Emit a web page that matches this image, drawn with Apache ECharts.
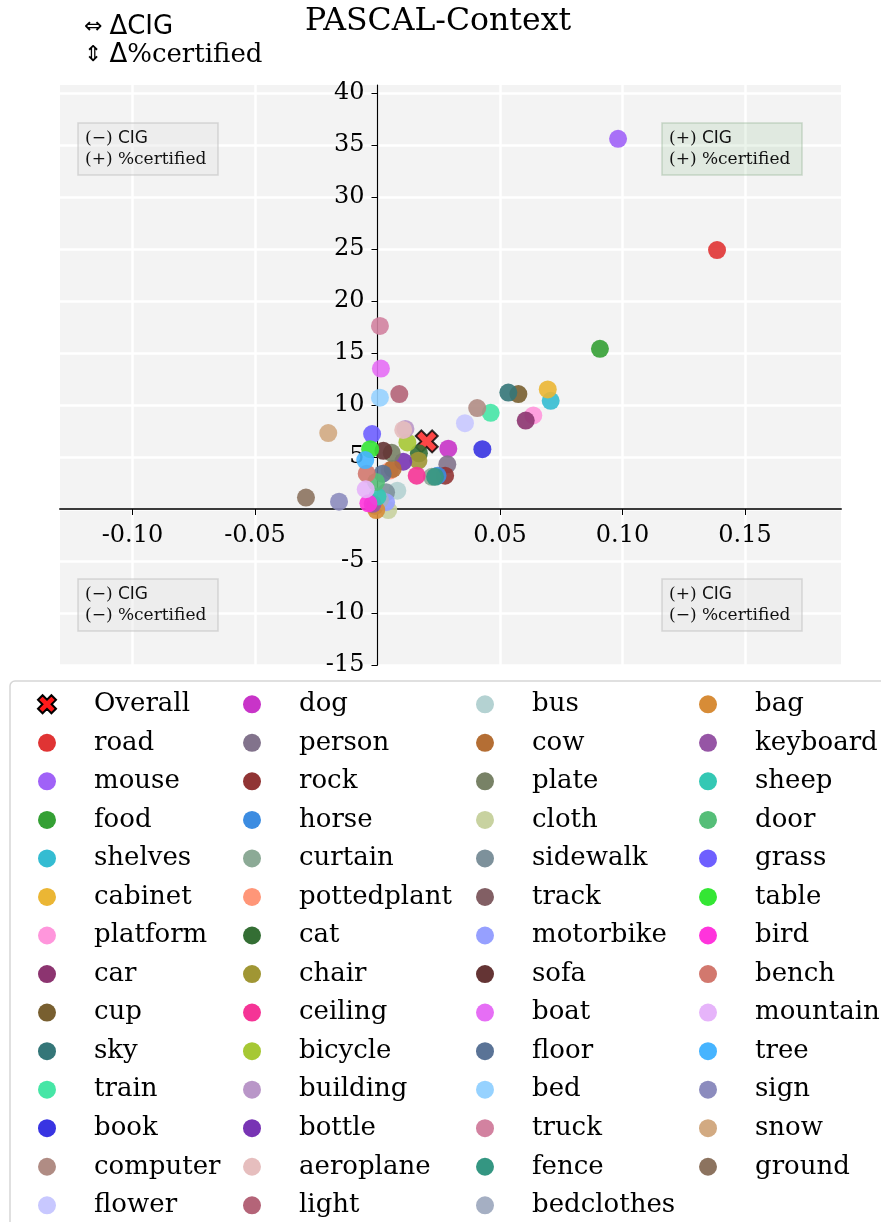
<!DOCTYPE html>
<html>
<head>
<meta charset="utf-8">
<script src="https://cdn.jsdelivr.net/npm/echarts@6/dist/echarts.min.js"></script>
<style>
  html, body { margin: 0; padding: 0; background: #ffffff; }
  #chart { width: 881px; height: 1222px; }
</style>
</head>
<body>
<div id="chart"></div>
<script>
// Per-class change in CIG (x) and change in % certified (y), PASCAL-Context
const classNames = [
  'road', 'mouse', 'food', 'shelves', 'cabinet', 'platform', 'car', 'cup', 'sky', 'train', 'book', 'computer', 'flower',
  'dog', 'person', 'rock', 'horse', 'curtain', 'pottedplant', 'cat', 'chair', 'ceiling', 'bicycle', 'building', 'bottle', 'aeroplane', 'light',
  'bus', 'cow', 'plate', 'cloth', 'sidewalk', 'track', 'motorbike', 'sofa', 'boat', 'floor', 'bed', 'truck', 'fence', 'bedclothes',
  'bag', 'keyboard', 'sheep', 'door', 'grass', 'table', 'bird', 'bench', 'mountain', 'tree', 'sign', 'snow', 'ground'
];
const cigDelta = [
  0.1386, 0.0982, 0.0908, 0.0707, 0.0695, 0.0636, 0.0605, 0.0575, 0.0534, 0.0462, 0.0428, 0.0407, 0.0357,
  0.0289, 0.0285, 0.0276, 0.0245, 0.0222, 0.0050, 0.0169, 0.0167, 0.0160, 0.0122, 0.0114, 0.0105, 0.0105, 0.0089,
  0.0081, 0.0062, 0.0058, 0.0044, 0.0035, -0.0010, 0.0035, 0.0024, 0.0014, 0.0021, 0.0010, 0.0010, 0.0235, 0.0010,
  -0.0005, -0.0020, 0.0000, -0.0006, -0.0022, -0.0030, -0.0037, -0.0044, -0.0048, -0.0050, -0.0157, -0.0201, -0.0292
];
const certDelta = [
  24.9, 35.6, 15.4, 10.4, 11.5, 9.0, 8.5, 11.05, 11.2, 9.25, 5.75, 9.7, 8.25,
  5.8, 4.3, 3.2, 3.2, 3.1, 3.7, 5.35, 4.65, 3.2, 6.4, 7.7, 4.55, 7.6, 11.05,
  1.76, 3.85, 5.4, -0.1, 1.6, 0.3, 0.65, 5.6, 13.5, 3.4, 10.7, 17.6, 3.1, 0.9,
  -0.1, 0.5, 1.2, 2.6, 7.2, 5.75, 0.55, 3.4, 1.9, 4.7, 0.7, 7.3, 1.1
];
const classColors = [
  '#e03434', '#a062f7', '#34a034', '#34bcd2', '#ebb634', '#ff96dc', '#8c3470', '#785f30', '#347678', '#46e6a6', '#3834e2', '#b08c84', '#c8c8ff',
  '#c834c8', '#82738c', '#913434', '#3c8ce1', '#8caa96', '#ff9678', '#346e34', '#a09634', '#f53496', '#a6c834', '#b996c8', '#7834b4', '#e6bebe', '#b46478',
  '#b4d2d2', '#b46e34', '#788266', '#c8d2a0', '#7d919b', '#825f64', '#96a0ff', '#643434', '#e66ef5', '#5a7396', '#96d2ff', '#d282a0', '#349682', '#a5afc3',
  '#d78c37', '#9655a5', '#34c8b4', '#55be78', '#6e5fff', '#34e634', '#ff34dc', '#d2786e', '#e6b4fa', '#46b4ff', '#8c8cbe', '#d2aa82', '#8c735f'
];
const overallPoint = [0.0201, 6.5];

const xTicks = [-0.10, -0.05, 0, 0.05, 0.10, 0.15];
const yTicks = [-15, -10, -5, 0, 5, 10, 15, 20, 25, 30, 35, 40];

const SERIF = 'DejaVu Serif';
const SANS = 'DejaVu Sans';
const crossPath = 'path://M27,97L50,74L73,97L97,73L74,50L97,27L73,3L50,26L27,3L3,27L26,50L3,73Z';

// plot box in pixels and axis ranges
const PLOT = { left: 60, right: 841, top: 85, bottom: 665 };
const X_RANGE = [-0.1296, 0.1892];
const Y_RANGE = [-15, 40.77];
// distance from the plot edges to the zero lines, so the spines cross at the origin
const xAxisOffset = -(PLOT.bottom - PLOT.top) * (0 - Y_RANGE[0]) / (Y_RANGE[1] - Y_RANGE[0]);
const yAxisOffset = -(PLOT.right - PLOT.left) * (0 - X_RANGE[0]) / (X_RANGE[1] - X_RANGE[0]);

const legendNames = ['Overall'].concat(classNames);
const legendColumns = [
  legendNames.slice(0, 14),
  legendNames.slice(14, 28),
  legendNames.slice(28, 42),
  legendNames.slice(42)
];
const legendLefts = [37, 243, 476, 699];

function quadrantBox(x, y, cigSign, certSign, tinted) {
  return {
    type: 'group',
    x: x, y: y,
    z: 10,
    children: [
      {
        type: 'rect',
        z: 10,
        shape: { x: 0, y: 0, width: 140, height: 52, r: 0 },
        style: {
          fill: tinted ? 'rgba(0,120,0,0.08)' : 'rgba(230,230,230,0.45)',
          stroke: tinted ? 'rgba(150,180,150,0.45)' : 'rgba(190,190,190,0.55)',
          lineWidth: 1.5
        }
      },
      {
        type: 'text',
        z: 11,
        x: 7, y: 26,
        style: {
          text: '{p|(' + cigSign + ') }{s|CIG}\n{p|(' + certSign + ') %certified}',
          verticalAlign: 'middle',
          align: 'left',
          rich: {
            p: { fontFamily: SERIF, fontSize: 17, lineHeight: 21, fill: '#111' },
            s: { fontFamily: SANS, fontSize: 17, lineHeight: 21, fill: '#111' }
          }
        }
      }
    ]
  };
}

const chart = echarts.init(document.getElementById('chart'), null, { renderer: 'canvas' });

const option = {
  animation: false,
  backgroundColor: '#ffffff',
  grid: {
    left: PLOT.left, right: 881 - PLOT.right, top: PLOT.top, bottom: 1222 - PLOT.bottom,
    show: true, backgroundColor: '#f3f3f3', borderWidth: 0
  },
  xAxis: {
    type: 'value',
    min: X_RANGE[0], max: X_RANGE[1],
    splitNumber: 6,
    position: 'bottom',
    offset: xAxisOffset,
    axisLine: { onZero: false, lineStyle: { color: '#3a3a3a', width: 2 } },
    axisTick: { show: true, length: 6, customValues: xTicks, lineStyle: { color: '#000', width: 1 } },
    axisLabel: {
      customValues: xTicks,
      margin: 15,
      fontFamily: SERIF, fontSize: 24, color: '#000',
      formatter: v => (Math.abs(v) < 1e-9 ? '' : v.toFixed(2))
    },
    splitLine: { show: true, lineStyle: { color: '#ffffff', width: 2.5 } }
  },
  yAxis: {
    type: 'value',
    min: Y_RANGE[0], max: Y_RANGE[1],
    splitNumber: 11,
    position: 'left',
    offset: yAxisOffset,
    axisLine: { onZero: false, lineStyle: { color: '#000', width: 1.2 } },
    axisTick: { show: true, length: 6, customValues: yTicks, lineStyle: { color: '#000', width: 1 } },
    axisLabel: {
      customValues: yTicks,
      margin: 13,
      fontFamily: SERIF, fontSize: 24, color: '#000',
      formatter: v => (Math.abs(v) < 1e-9 ? '' : String(v))
    },
    splitLine: { show: true, lineStyle: { color: '#ffffff', width: 2.5 } }
  },
  legend: legendColumns.map((names, i) => ({
    orient: 'vertical',
    left: legendLefts[i],
    top: 685,
    height: 560,
    padding: 0,
    itemGap: 0,
    itemWidth: 18,
    itemHeight: 18,
    selectedMode: false,
    data: names,
    itemStyle: { opacity: 1 },
    textStyle: {
      fontFamily: SERIF, fontSize: 26, color: '#000',
      lineHeight: 38.54, padding: [0, 0, 0, 33]
    }
  })),
  graphic: [
    {
      type: 'rect',
      shape: { x: 10, y: 681, width: 900, height: 600, r: 5 },
      style: { fill: 'none', stroke: '#d6d6d6', lineWidth: 1.5 },
      z: -1
    },
    {
      type: 'text',
      x: 438, y: 22,
      style: {
        text: 'PASCAL-Context',
        fontFamily: SERIF, fontSize: 31.5, fill: '#000',
        align: 'center', verticalAlign: 'middle'
      }
    },
    {
      type: 'text',
      x: 84, y: 27,
      style: {
        text: '{a|⇔ }{d|ΔCIG}',
        align: 'left', verticalAlign: 'middle',
        rich: {
          a: { fontFamily: SANS, fontSize: 22, fill: '#000' },
          d: { fontFamily: SANS, fontSize: 26, fill: '#000' }
        }
      }
    },
    {
      type: 'text',
      x: 84, y: 55,
      style: {
        text: '{a|⇕ }{d|Δ}{p|%certified}',
        align: 'left', verticalAlign: 'middle',
        rich: {
          a: { fontFamily: SANS, fontSize: 22, fill: '#000' },
          d: { fontFamily: SANS, fontSize: 26, fill: '#000' },
          p: { fontFamily: SERIF, fontSize: 26, fill: '#000' }
        }
      }
    },
    quadrantBox(78, 123, '−', '+', false),
    quadrantBox(662, 123, '+', '+', true),
    quadrantBox(78, 579, '−', '−', false),
    quadrantBox(662, 579, '+', '−', false)
  ],
  series: [
    {
      name: 'Overall',
      type: 'scatter',
      data: [overallPoint],
      symbol: crossPath,
      symbolSize: 22,
      itemStyle: { color: '#ff1a1a', borderColor: '#000', borderWidth: 2 },
      emphasis: { disabled: true },
      silent: true
    }
  ].concat(classNames.map((name, i) => ({
    name: name,
    type: 'scatter',
    data: [[cigDelta[i], certDelta[i]]],
    symbol: 'circle',
    symbolSize: 18,
    itemStyle: { color: classColors[i], opacity: 0.9 },
    emphasis: { disabled: true },
    silent: true
  })))
};

chart.setOption(option);
</script>
</body>
</html>
